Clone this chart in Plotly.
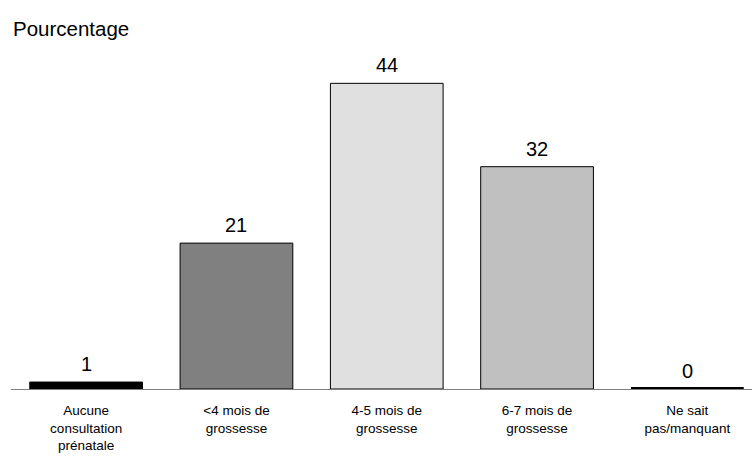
import plotly.graph_objects as go

categories = ["Aucune<br>consultation<br>prénatale", "<4 mois de<br>grossesse", "4-5 mois de<br>grossesse",
              "6-7 mois de<br>grossesse", "Ne sait<br>pas/manquant"]
values = [1, 21, 44, 32, 0]
colors = ["#000000", "#808080", "#e0e0e0", "#c0c0c0", "#000000"]
line_widths = [1, 1, 1, 1, 4]

x = list(range(len(categories)))
fig = go.Figure(go.Bar(
    x=x, y=values,
    marker=dict(color=colors, line=dict(color="#000000", width=line_widths)),
    cliponaxis=False, width=0.75, hoverinfo="y",
))
for xi, v in zip(x, values):
    fig.add_annotation(x=xi, y=v, text=str(v), showarrow=False, yanchor="bottom", yshift=5,
                       font=dict(size=20, color="#000000"))
fig.add_annotation(text="Pourcentage", xref="paper", yref="paper", x=0.0, y=1.0, yshift=22,
                   xanchor="left", yanchor="middle", showarrow=False, font=dict(size=20.5))
fig.update_layout(
    width=752, height=457, plot_bgcolor="white", paper_bgcolor="white",
    font=dict(family="Liberation Sans, Arial", color="#000000"),
    margin=dict(l=11, r=0, t=50, b=68), showlegend=False,
)
fig.update_xaxes(range=[-0.5, 4.43], tickvals=x, ticktext=categories, automargin=False,
                 showline=True, linecolor="#7f7f7f", linewidth=1, showgrid=False, zeroline=False,
                 ticks="outside", ticklen=9, tickcolor="rgba(0,0,0,0)",
                 tickfont=dict(size=13.5, family="Liberation Sans, Arial"))
fig.update_yaxes(range=[0, 48.8], visible=False, showgrid=False, zeroline=False, automargin=False)
fig.write_html("out.html", config={"displayModeBar": False},
               post_script="document.body.style.margin='0';document.body.style.overflow='hidden';")
